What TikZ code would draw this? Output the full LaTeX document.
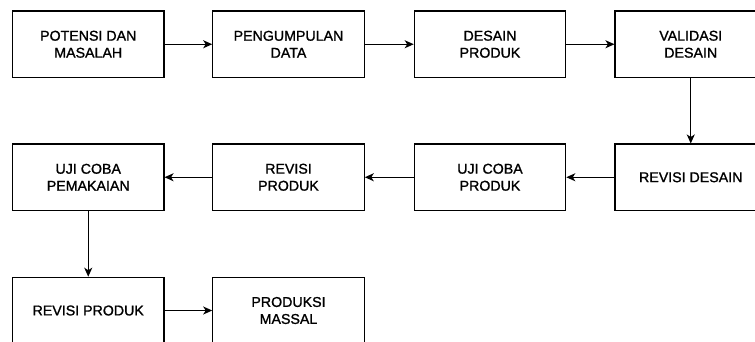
\documentclass[tikz,border=0pt]{standalone}
\usepackage{fontspec}
\setmainfont{Liberation Sans}[FakeBold=1.2]
\usetikzlibrary{arrows.meta}
\begin{document}
\begin{tikzpicture}[x=1pt,y=-1pt,
  box/.style={draw=black, line width=1.1pt, minimum width=151.5pt, minimum height=66.5pt,
    inner sep=0pt, align=center, font=\fontsize{14.2}{17}\selectfont, text=black},
  conn/.style={line width=1.1pt, -{Stealth[length=9pt,width=8pt,inset=2.5pt]}}]
\useasboundingbox (0,0) rectangle (755,341);
\node[box] (a) at (88.25,44.25) {POTENSI DAN\\MASALAH};
\node[box] (b) at (288.5,44.25) {PENGUMPULAN\\DATA};
\node[box] (c) at (490,44.25) {DESAIN\\PRODUK};
\node[box] (d) at (690.75,44.25) {VALIDASI\\DESAIN};
\node[box] (e) at (690.75,177.25) {REVISI DESAIN};
\node[box] (f) at (490,177.25) {UJI COBA\\PRODUK};
\node[box] (g) at (288.5,177.25) {REVISI\\PRODUK};
\node[box] (h) at (88.25,177.25) {UJI COBA\\PEMAKAIAN};
\node[box] (i) at (88.25,310.5) {REVISI PRODUK};
\node[box] (j) at (288.5,310.5) {PRODUKSI\\MASSAL};
\draw[conn] (a) -- (b);
\draw[conn] (b) -- (c);
\draw[conn] (c) -- (d);
\draw[conn] (d) -- (e);
\draw[conn] (e) -- (f);
\draw[conn] (f) -- (g);
\draw[conn] (g) -- (h);
\draw[conn] (h) -- (i);
\draw[conn] (i) -- (j);
\end{tikzpicture}
\end{document}
